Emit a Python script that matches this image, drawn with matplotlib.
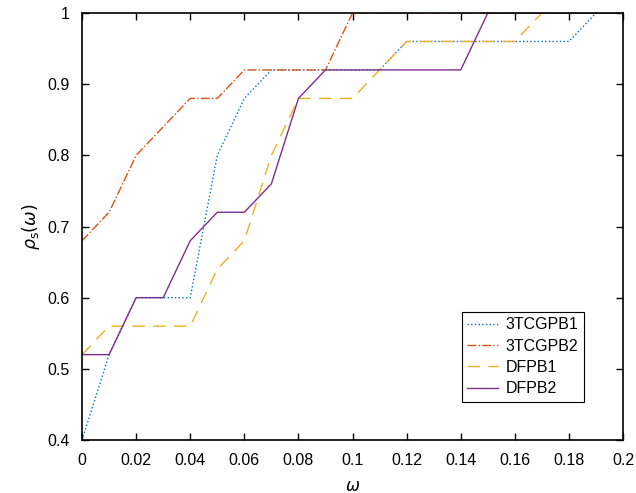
import numpy as np
import matplotlib
matplotlib.use("Agg")
import matplotlib.pyplot as plt

plt.rcParams['font.family'] = ['Liberation Sans', 'DejaVu Sans']
plt.rcParams['mathtext.fontset'] = 'dejavusans'

# performance profile data
omega = [0.00, 0.01, 0.02, 0.03, 0.04, 0.05, 0.06, 0.07, 0.08, 0.09, 0.10,
         0.11, 0.12, 0.13, 0.14, 0.15, 0.16, 0.17, 0.18, 0.19, 0.20]
tcgpb1 = [0.40, 0.52, 0.60, 0.60, 0.60, 0.80, 0.88, 0.92, 0.92, 0.92, 0.92,
          0.92, 0.96, 0.96, 0.96, 0.96, 0.96, 0.96, 0.96, 1.00, 1.00]
tcgpb2 = [0.68, 0.72, 0.80, 0.84, 0.88, 0.88, 0.92, 0.92, 0.92, 0.92, 1.00,
          1.00, 1.00, 1.00, 1.00, 1.00, 1.00, 1.00, 1.00, 1.00, 1.00]
dfpb1 = [0.52, 0.56, 0.56, 0.56, 0.56, 0.64, 0.68, 0.80, 0.88, 0.88, 0.88,
         0.92, 0.96, 0.96, 0.96, 0.96, 0.96, 1.00, 1.00, 1.00, 1.00]
dfpb2 = [0.52, 0.52, 0.60, 0.60, 0.68, 0.72, 0.72, 0.76, 0.88, 0.92, 0.92,
         0.92, 0.92, 0.92, 0.92, 1.00, 1.00, 1.00, 1.00, 1.00, 1.00]

fig = plt.figure(figsize=(6.36, 4.93), dpi=100)
ax = fig.add_axes([0.129, 0.1075, 0.8506, 0.8661])

ax.plot(omega, tcgpb1, ':', color='#0072BD', lw=1.0, label='3TCGPB1')
ax.plot(omega, tcgpb2, '-.', color='#D95319', lw=1.0, label='3TCGPB2')
ax.plot(omega, dfpb1, color='#EDB120', lw=1.0, dashes=(9, 6), label='DFPB1')
ax.plot(omega, dfpb2, '-', color='#7E2F8E', lw=1.0, label='DFPB2')

ax.set_xlim(0, 0.2)
ax.set_ylim(0.4, 1)
ax.set_xticks(np.arange(0, 0.201, 0.02))
ax.set_xticklabels(['0', '0.02', '0.04', '0.06', '0.08', '0.1', '0.12',
                    '0.14', '0.16', '0.18', '0.2'])
ax.set_yticks(np.arange(0.4, 1.001, 0.1))
ax.set_yticklabels(['0.4', '0.5', '0.6', '0.7', '0.8', '0.9', '1'])
ax.tick_params(direction='in', top=True, right=True, labelsize=11.5, length=5, width=1.0)
ax.tick_params(axis='x', pad=9)
ax.tick_params(axis='y', pad=9)
for s in ax.spines.values():
    s.set_linewidth(1.2)

ax.set_xlabel(r'$\omega$', fontsize=12, labelpad=8)
ax.set_ylabel(r'$\rho_{\rm s}(\omega)$', fontsize=12.5, labelpad=4)

leg = ax.legend(loc='lower right', bbox_to_anchor=(0.928, 0.089), borderaxespad=0,
                fontsize=11.5, fancybox=False, framealpha=1, edgecolor='black',
                handlelength=1.9, borderpad=0.35, labelspacing=0.4, handletextpad=0.5)
leg.get_frame().set_linewidth(0.8)

fig.savefig('out.png', dpi=100)
